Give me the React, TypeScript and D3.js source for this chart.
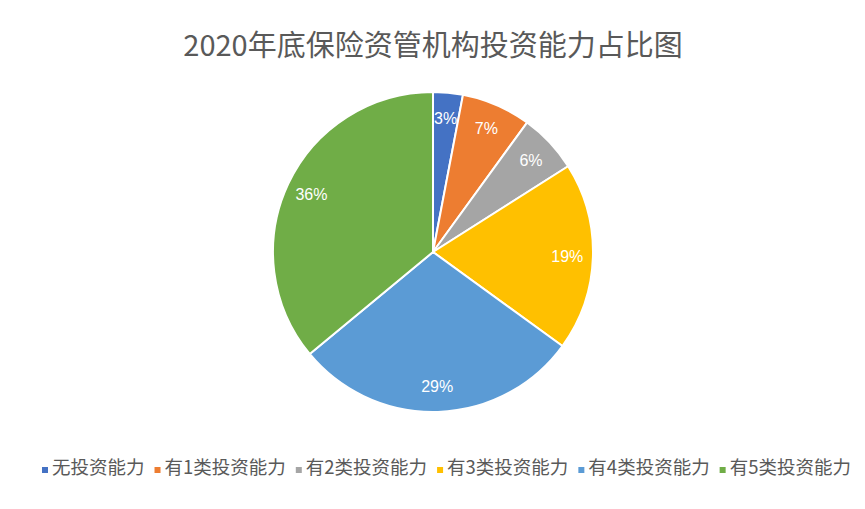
import React, { useEffect, useRef } from "react";
import * as d3 from "d3";

const categories = ["无投资能力", "有1类投资能力", "有2类投资能力", "有3类投资能力", "有4类投资能力", "有5类投资能力"];
const values = [3, 7, 6, 19, 29, 36];
const colors = ["#4472C4", "#ED7D31", "#A5A5A5", "#FFC000", "#5B9BD5", "#70AD47"];
const title = "2020年底保险资管机构投资能力占比图";

const W = 865;
const H = 509;
const FONT = "'Noto Sans CJK SC', 'Noto Sans', sans-serif";

export default function App() {
  const ref = useRef<SVGSVGElement>(null);

  useEffect(() => {
    const svg = d3.select(ref.current);
    svg.selectAll("*").remove();

    svg.append("rect").attr("width", W).attr("height", H).attr("fill", "#fff");

    svg.append("text")
      .attr("x", 433).attr("y", 56)
      .attr("text-anchor", "middle")
      .attr("font-family", FONT)
      .attr("font-size", 29)
      .attr("fill", "#595959")
      .text(title);

    const cx = 433, cy = 252, R = 160;
    const data = categories.map((c, i) => ({ c, v: values[i], col: colors[i] }));
    const pie = d3.pie<any>().value((d: any) => d.v).sort(null);
    const arcs = pie(data);
    const arc = d3.arc<any>().innerRadius(0).outerRadius(R);
    const labelArc = d3.arc<any>().innerRadius(R * 0.84).outerRadius(R * 0.84);
    const total = d3.sum(values);

    const g = svg.append("g").attr("transform", `translate(${cx},${cy})`);
    g.selectAll("path").data(arcs).enter().append("path")
      .attr("d", arc as any)
      .attr("fill", (d: any) => d.data.col)
      .attr("stroke", "#fff")
      .attr("stroke-width", 2)
      .attr("stroke-linejoin", "round");

    g.selectAll("text.lbl").data(arcs).enter().append("text")
      .attr("class", "lbl")
      .attr("transform", (d: any) => {
        const [x, y] = labelArc.centroid(d);
        return `translate(${x},${y})`;
      })
      .attr("text-anchor", "middle")
      .attr("dy", "0.35em")
      .attr("font-family", "'Liberation Sans', Arial, sans-serif")
      .attr("font-size", 16)
      .attr("fill", "#fff")
      .text((d: any) => `${Math.round((d.data.v / total) * 100)}%`);

    // legend
    const lg = svg.append("g");
    const items = lg.selectAll("g").data(data).enter().append("g");
    items.append("rect").attr("width", 6).attr("height", 6).attr("y", -7)
      .attr("fill", (d: any) => d.col);
    const texts = items.append("text")
      .attr("x", 10)
      .attr("font-family", FONT)
      .attr("font-size", 18.5)
      .attr("fill", "#595959")
      .text((d: any) => d.c);
    const widths: number[] = [];
    texts.each(function () { widths.push((this as SVGTextElement).getComputedTextLength()); });
    const gap = 10;
    const itemW = widths.map((w) => 10 + w);
    let x = 42;
    items.each(function (_d, i) {
      d3.select(this).attr("transform", `translate(${x},474)`);
      x += itemW[i] + gap;
    });
  }, []);

  return <svg ref={ref} width={W} height={H} style={{ display: "block", position: "absolute", left: 0, top: 0 }} />;
}
